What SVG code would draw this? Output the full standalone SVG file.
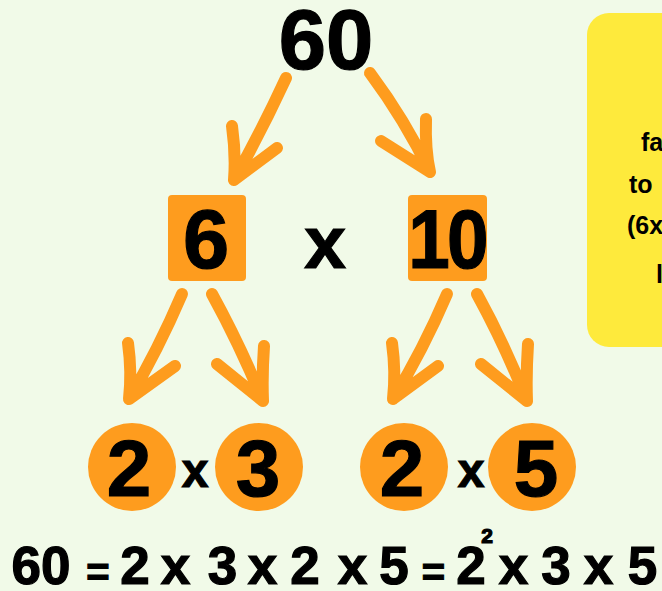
<svg xmlns="http://www.w3.org/2000/svg" width="662" height="591" viewBox="0 0 662 591">
<style>
.t{font-family:"Liberation Sans",Arial,sans-serif;font-weight:bold;fill:#000;stroke:#000;stroke-width:1.2;text-anchor:middle}
.box{fill:#FE9C1E}
.arw{fill:none;stroke:#FE9C1E;stroke-width:12;stroke-linecap:round;stroke-linejoin:round}
.note{font-family:"Liberation Sans",Arial,sans-serif;font-weight:bold;font-size:25px;fill:#000}
</style>
<rect width="662" height="591" fill="#F1FAE8"/>
<g id="note">
<rect x="587" y="13" width="120" height="334" rx="22" fill="#FEEA3C"/>
<text class="note" x="641" y="151">fa</text>
<text class="note" x="629" y="193">to</text>
<text class="note" x="627" y="234">(6x</text>
<text class="note" x="656" y="283">l</text>
</g>
<g id="connectors">
<path class="arw" d="M286,78 Q262,130 234,180 M232,126 Q236,155 234,180 L277,148"/>
<path class="arw" d="M370,73 Q405,120 430,172 M426,119 Q425,150 430,172 L381,141"/>
<path class="arw" d="M182,294 Q158,350 129,399 M128,343 Q132,372 129,399 L175,366"/>
<path class="arw" d="M212,294 Q240,345 263,401 M264,346 Q262,375 263,401 L217,364"/>
<path class="arw" d="M447,294 Q423,350 393,399 M392,343 Q396,372 393,399 L438,366"/>
<path class="arw" d="M477,294 Q505,345 527,401 M528,344 Q526,375 527,401 L481,364"/>
</g>
<g id="n60"><text class="t" x="326" y="69" font-size="85">60</text></g>
<g id="n6">
<rect class="box" x="168" y="195" width="78" height="86" rx="4"/>
<text class="t" x="206" y="268" font-size="83">6</text>
</g>
<g id="times1"><text class="t" x="325" y="268" font-size="75">x</text></g>
<g id="n10">
<rect class="box" x="408" y="195" width="79" height="86" rx="4"/>
<text class="t" transform="translate(447,268) scale(0.9,1)" x="0" y="0" font-size="83" letter-spacing="-3">10</text>
</g>
<g id="c2a">
<circle class="box" cx="132" cy="467" r="44"/>
<text class="t" x="129" y="496" font-size="80">2</text>
</g>
<g id="times2"><text class="t" x="195" y="487" font-size="48">x</text></g>
<g id="c3">
<circle class="box" cx="259" cy="467" r="44"/>
<text class="t" x="258" y="496" font-size="80">3</text>
</g>
<g id="c2b">
<circle class="box" cx="404" cy="467" r="44"/>
<text class="t" x="402" y="496" font-size="80">2</text>
</g>
<g id="times3"><text class="t" x="471" y="487" font-size="48">x</text></g>
<g id="c5">
<circle class="box" cx="532" cy="467" r="44"/>
<text class="t" x="536" y="496" font-size="80">5</text>
</g>
<g id="equation">
<text class="t" font-size="53" y="584">
<tspan x="41">60</tspan><tspan x="135">2</tspan><tspan x="175.5">x</tspan><tspan x="222.5">3</tspan><tspan x="262.5">x</tspan><tspan x="305">2</tspan><tspan x="352.5">x</tspan><tspan x="394">5</tspan><tspan x="471">2</tspan><tspan x="513.5">x</tspan><tspan x="556">3</tspan><tspan x="598.5">x</tspan><tspan x="642.5">5</tspan>
</text>
<text class="t" font-size="40" y="586"><tspan x="98">=</tspan><tspan x="433.5">=</tspan></text>
<text class="t" font-size="21" x="487" y="543">2</text>
</g>
</svg>
